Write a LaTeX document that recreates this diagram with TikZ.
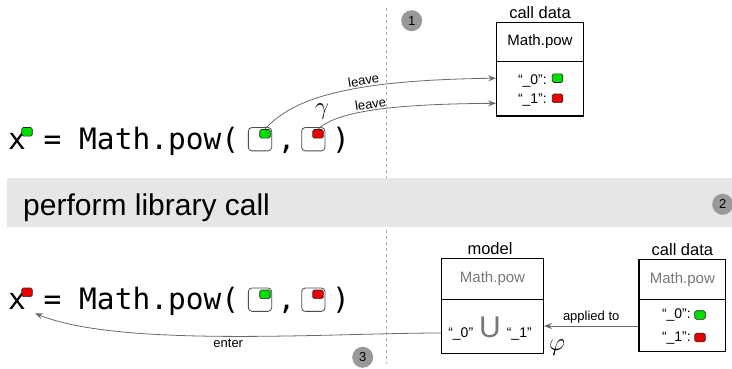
\documentclass[tikz,border=0pt]{standalone}
\usepackage{fontspec}
\setmainfont{Liberation Sans}
\newfontfamily\codefont{DejaVu Sans Mono}
\usetikzlibrary{arrows.meta}
\definecolor{sqgreen}{HTML}{00DD00}
\definecolor{sqred}{HTML}{EE0000}
\definecolor{bandgray}{HTML}{E6E6E6}
\definecolor{conn}{HTML}{6A6A6A}
\definecolor{badge}{HTML}{999999}
\definecolor{dimtext}{HTML}{777777}
\definecolor{sepgray}{HTML}{B0B0B0}
\tikzset{
  code/.style={font=\codefont\fontsize{29.5}{29.5}\selectfont, inner sep=0pt, anchor=base west},
  argbox/.style={draw=black!70, line width=0.8pt, rounded corners=3.5pt, fill=white, minimum size=23.3pt, inner sep=0pt},
  tok/.style={draw=black!85, line width=0.6pt, rounded corners=1.5pt, minimum width=10.5pt, minimum height=8.6pt, inner sep=0pt},
  gtok/.style={tok, fill=sqgreen},
  rtok/.style={tok, fill=sqred},
  badgecirc/.style={circle, fill=badge, minimum size=21pt, inner sep=0pt, font=\fontsize{13}{13}\selectfont},
  boxpart/.style={draw=black, line width=1.4pt, inner sep=0pt},
  boxlabel/.style={font=\fontsize{16.5}{16.5}\selectfont, inner sep=0pt, anchor=base},
  headtext/.style={font=\fontsize{15}{15}\selectfont},
  rowtext/.style={font=\fontsize{14}{14}\selectfont, inner sep=0pt, anchor=base east},
  small/.style={font=\fontsize{13}{13}\selectfont, inner sep=1pt},
  connarrow/.style={draw=conn, line width=0.8pt, -{Stealth[length=8pt,width=6pt,inset=3pt]}},
}
\begin{document}
\begin{tikzpicture}[x=1pt,y=-1pt]
\useasboundingbox (0,0) rectangle (732,368);
% separator and band
\draw[sepgray, line width=0.6pt, dash pattern=on 3pt off 3pt] (386.7,8) -- (386.7,364);
\fill[bandgray] (7,178) rectangle (732,227);
\node[font=\fontsize{30}{30}\selectfont, inner sep=0pt, anchor=base west] (perform) at (23,215) {perform library call};

% badges
\node[badgecirc] (b1) at (411.7,20.7) {1};
\node[badgecirc] (b2) at (722.7,204.3) {2};
\node[badgecirc] (b3) at (362.7,357.3) {3};

% ---- top code line
\node[code] (codeA) at (8,149.3) {x = Math.pow(};
\node[gtok] (xA) at (27,131.8) {};
\node[argbox] (argA1) at (260,139.2) {};
\node[gtok] (tokA1) at (265,133.8) {};
\node[code, anchor=base] (commaA) at (286.5,149.3) {,};
\node[argbox] (argA2) at (313.3,139.2) {};
\node[rtok] (tokA2) at (318,133.8) {};
\node[code, anchor=base] (parA) at (341,149.3) {)};

% ---- top call data box
\node[boxlabel] (cdAlabel) at (540,18.3) {call data};
\node[boxpart, minimum width=86.6pt, minimum height=39.4pt, headtext] (cdAhead) at (540,42) {Math.pow};
\node[boxpart, minimum width=86.6pt, minimum height=54.3pt] (cdAbody) at (540,88.85) {};
\node[rowtext] (rowA0) at (547,84) {“\_0”:};
\node[rowtext] (rowA1) at (547,103.3) {“\_1”:};
\node[gtok] (sqA0) at (557.5,78.2) {};
\node[rtok] (sqA1) at (557.5,98.3) {};

% leave arrows
\draw[connarrow] (tokA1.north) .. controls (295,95) and (360,80) .. (cdAbody.west |- sqA0)
  node[pos=0.6, above=0.5pt, sloped, small] {leave};
\draw[connarrow] (tokA2.north) .. controls (338,110) and (400,104) .. ([yshift=-5pt]cdAbody.west |- sqA1)
  node[pos=0.46, above=0.5pt, sloped, small] {leave};
\node[font=\fontsize{24}{24}\selectfont, inner sep=0pt] (gam) at (322,112) {$\gamma$};

% ---- bottom code line
\node[code] (codeB) at (8,309.8) {x = Math.pow(};
\node[rtok] (xB) at (27,292.3) {};
\node[argbox] (argB1) at (260,299.7) {};
\node[gtok] (tokB1) at (265,294.3) {};
\node[code, anchor=base] (commaB) at (286.5,309.8) {,};
\node[argbox] (argB2) at (313.3,299.7) {};
\node[rtok] (tokB2) at (318,294.3) {};
\node[code, anchor=base] (parB) at (341,309.8) {)};

% ---- model box
\node[boxlabel] (mlabel) at (490,254) {model};
\node[boxpart, minimum width=101.6pt, minimum height=41pt, headtext, text=dimtext] (mhead) at (492.5,278.8) {Math.pow};
\node[boxpart, minimum width=101.6pt, minimum height=54pt] (mbody) at (492.5,326.3) {};
\node[inner sep=0pt, anchor=base, font=\fontsize{14}{14}\selectfont] (union) at (490,337)
  {“\_0”\hspace{6pt}{\color{dimtext}\fontsize{30}{30}\selectfont U}\hspace{6pt}“\_1”};
\node[font=\fontsize{28}{28}\selectfont, inner sep=0pt] (phi) at (557,348) {$\varphi$};

% ---- bottom call data box
\node[boxlabel] (cdBlabel) at (682.4,255) {call data};
\node[boxpart, minimum width=86.6pt, minimum height=40pt, headtext, text=dimtext] (cdBhead) at (682.4,279.3) {Math.pow};
\node[boxpart, minimum width=86.6pt, minimum height=52.4pt] (cdBbody) at (682.4,325.5) {};
\node[rowtext] (rowB0) at (691,318) {“\_0”:};
\node[rowtext] (rowB1) at (691,341.3) {“\_1”:};
\node[gtok] (sqB0) at (700,315) {};
\node[rtok] (sqB1) at (700,337.5) {};

% applied to / enter
\draw[connarrow] (cdBbody.west |- 0,326) -- (mbody.east |- 0,326)
  node[midway, above=1pt, small] {applied to};
\coordinate (enterEnd) at ([xshift=27pt,yshift=-3.5pt]codeB.base west);
\draw[connarrow] (mbody.west |- 0,333) .. controls (330,333) and (120,348) .. (enterEnd)
  node[pos=0.5, below=2pt, small] {enter};
\end{tikzpicture}
\end{document}
